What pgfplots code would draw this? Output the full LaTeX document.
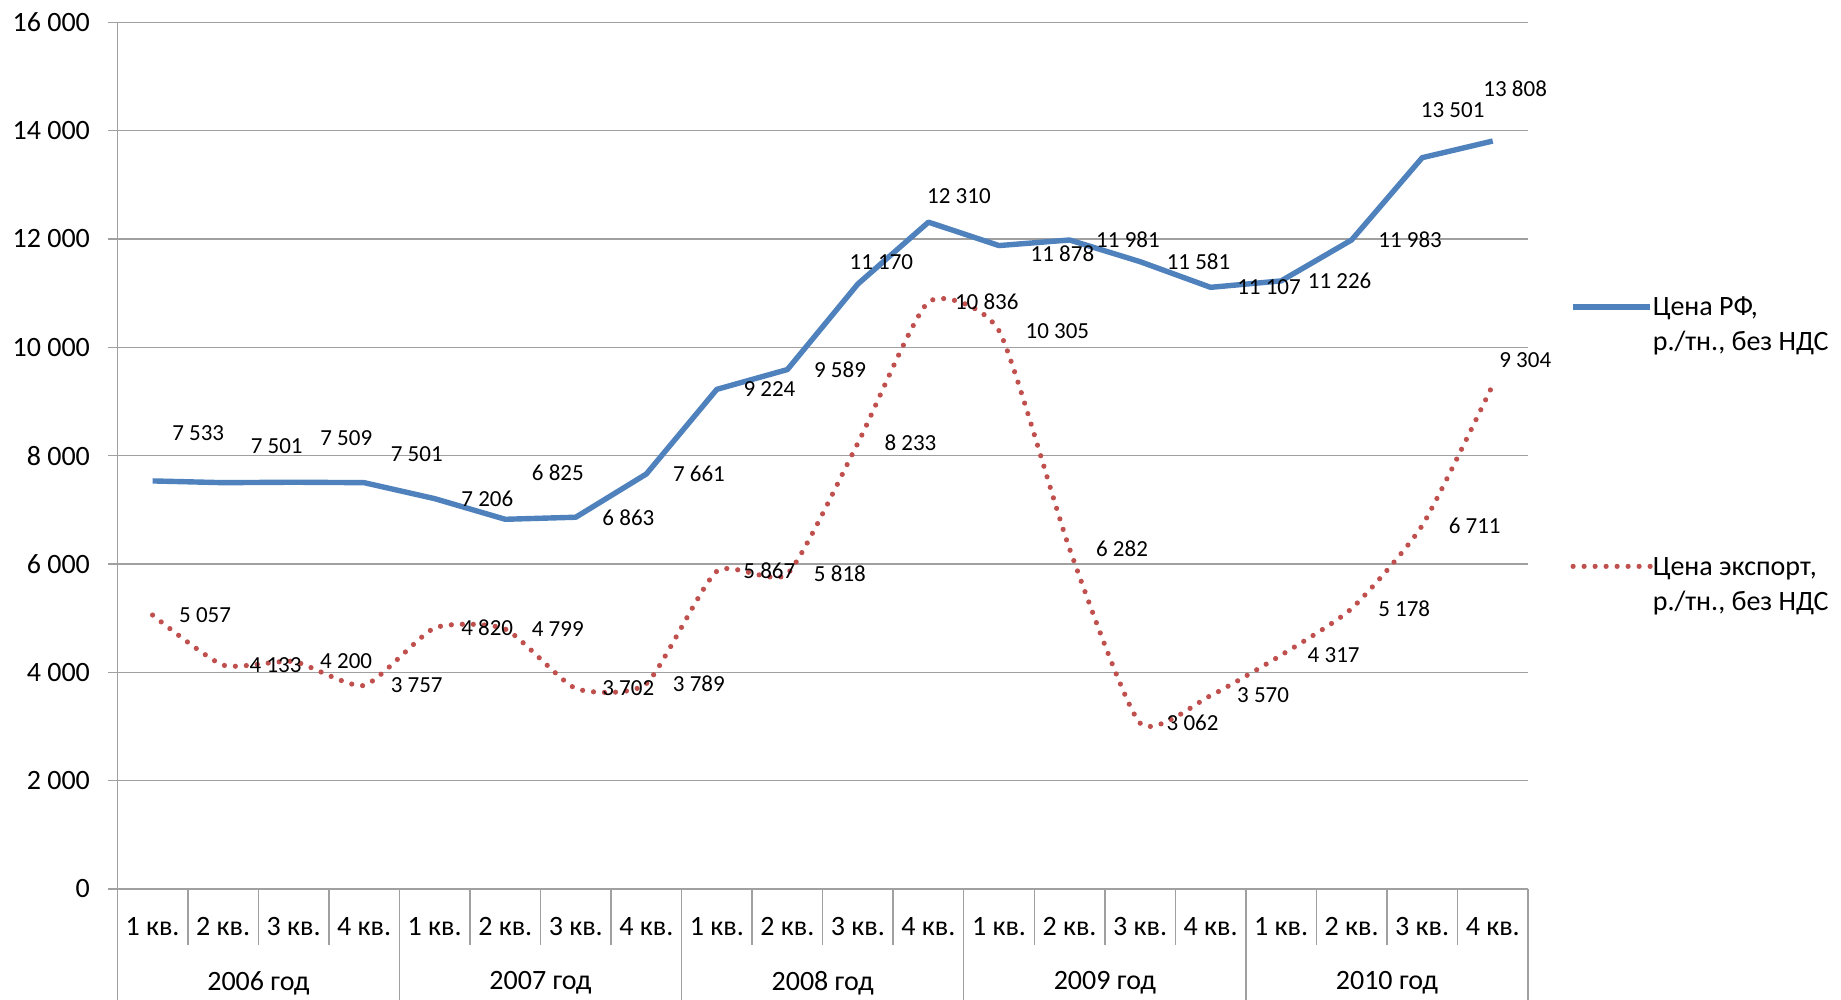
\documentclass[border=0pt]{standalone}
\usepackage{fontspec}
\setmainfont{Carlito}
\usepackage{pgfplots}
\pgfplotsset{compat=1.18}
\usepackage{pgfplotstable}

\definecolor{rfblue}{HTML}{4F81BD}
\definecolor{exred}{HTML}{C0504D}
\definecolor{gridgray}{HTML}{A0A0A0}

% x = quarter number, dx/dy = label shift in pt
\pgfplotstableread{
x y dx dy
1 7533 -3.5 24
2 7501 0.5 18.5
3 7509 0 22
4 7501 0 14.5
5 7206 0 0
6 6825 0 23.5
7 6863 0 0
8 7661 0 0
9 9224 0 0
10 9589 0 0
11 11170 -17.5 11
12 12310 -14 13
13 11878 2.5 -4
14 11981 0 0
15 11581 0 0
16 11107 0 0
17 11226 0 0
18 11983 0 0
19 13501 -14 24
20 13808 -18 26
}\rfprice

\pgfplotstableread{
x y dx dy
1 5057 0 0
2 4133 0 0
3 4200 0 0
4 3757 0 0
5 4820 0 0
6 4799 0 0
7 3702 0 0
8 3789 0 0
9 5867 0 0
10 5818 0 0
11 8233 0 0
12 10836 0 0
13 10305 0 0
14 6282 0 0
15 3062 0 0
16 3570 0 0
17 4317 0 0
18 5178 0 0
19 6711 0 0
20 9304 -10 12.5
}\exprice

\begin{document}
\begin{tikzpicture}[font=\fontsize{14}{17.5}\selectfont]
\begin{axis}[
  scale only axis,
  width=705.35pt, height=433.35pt,
  xmin=0.5, xmax=20.5, ymin=0, ymax=16000,
  clip=false,
  axis lines*=left,
  axis line style={gridgray, line width=0.75pt},
  ymajorgrids,
  grid style={gridgray, line width=0.75pt},
  ytick={0,2000,...,16000},
  scaled y ticks=false,
  xtick={1,...,20},
  xticklabels={1 кв.,2 кв.,3 кв.,4 кв.,1 кв.,2 кв.,3 кв.,4 кв.,1 кв.,2 кв.,3 кв.,4 кв.,1 кв.,2 кв.,3 кв.,4 кв.,1 кв.,2 кв.,3 кв.,4 кв.},
  x tick style={draw=none},
  y tick style={gridgray, line width=0.75pt},
  tick align=outside,
  major tick length=4.5pt,
  tick label style={font=\fontsize{14}{17.5}\selectfont},
  xticklabel style={anchor=center, inner sep=0pt, yshift=-14.5pt},
  yticklabel style={anchor=east, inner sep=0pt, xshift=-9pt},
  /pgf/number format/fixed,
  /pgf/number format/precision=0,
  /pgf/number format/1000 sep={\ },
  /pgf/number format/assume math mode=true,
  legend style={draw=none, fill=none, at={(axis description cs:1,0.69)}, anchor=north west,
    xshift=21pt, row sep=116pt, inner sep=0pt,
    font=\fontsize{14}{17.5}\selectfont,
    nodes={inner sep=0pt, anchor=base west}},
  legend cell align=left,
  legend image code/.code={\draw[#1] (0pt,4.5pt) -- (38.5pt,4.5pt);},
  nodes near coords,
  point meta=explicit,
  visualization depends on={\thisrow{dx} \as \dx},
  visualization depends on={\thisrow{dy} \as \dy},
  every node near coord/.append style={anchor=west, inner sep=0pt,
    font=\fontsize{11.5}{13}\selectfont, text=black,
    xshift=12pt+\dx pt, yshift=\dy pt},
]
\addplot[rfblue, line width=2.7pt, line join=round] table[x=x, y=y, meta=y] {\rfprice};
\addlegendentry{\begin{tabular}[t]{@{}l@{}}Цена РФ,\\р./тн., без НДС\end{tabular}}
\addplot[exred, line width=2.6pt, line cap=round, dash pattern=on 0pt off 5.5pt, smooth, tension=0.35] table[x=x, y=y, meta=y] {\exprice};
\addlegendentry{\begin{tabular}[t]{@{}l@{}}Цена экспорт,\\р./тн., без НДС\end{tabular}}

\pgfplotsinvokeforeach{0.5,1.5,...,20.5}{
  \draw[gridgray, line width=0.75pt] (axis cs:#1,0) -- ++(0pt,-28pt);
}
\pgfplotsinvokeforeach{0.5,4.5,...,20.5}{
  \draw[gridgray, line width=0.75pt] (axis cs:#1,0) -- ++(0pt,-55.5pt);
}
\node[yshift=-47pt] at (axis cs:2.5,0) {2006 год};
\node[yshift=-47pt] at (axis cs:6.5,0) {2007 год};
\node[yshift=-47pt] at (axis cs:10.5,0) {2008 год};
\node[yshift=-47pt] at (axis cs:14.5,0) {2009 год};
\node[yshift=-47pt] at (axis cs:18.5,0) {2010 год};
\end{axis}
\pgfresetboundingbox
\path[use as bounding box] ([xshift=-58.65pt, yshift=-55.5pt]current axis.south west)
  rectangle ([xshift=156.5pt, yshift=11.15pt]current axis.north east);
\end{tikzpicture}
\end{document}
